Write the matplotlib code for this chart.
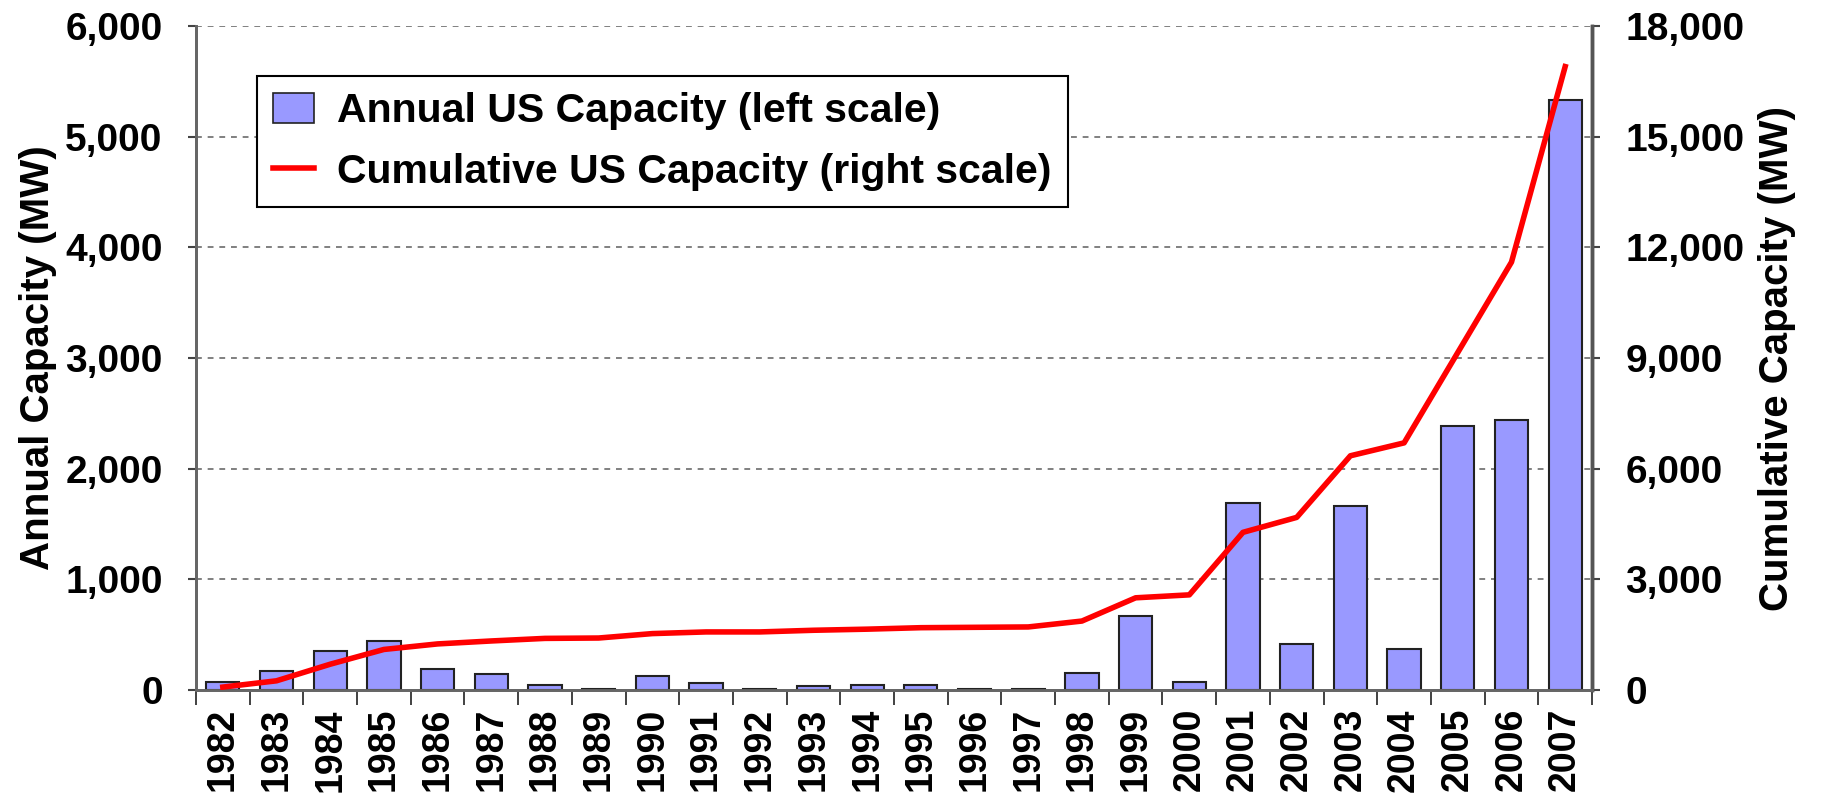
import numpy as np
import matplotlib
matplotlib.use("Agg")
import matplotlib.pyplot as plt
from matplotlib.ticker import FuncFormatter, FixedLocator
from matplotlib.patches import Patch
from matplotlib.lines import Line2D

years = [str(y) for y in range(1982, 2008)]

# annual installed capacity, MW (left scale)
annual = [70, 174, 357, 447, 186, 141, 48, 12, 129, 60, 12, 36, 48,
          45, 9, 9, 150, 667, 69, 1694, 414, 1661, 372, 2387, 2444, 5330]

# cumulative capacity, MW (right scale)
cumulative = [80, 250, 700, 1100, 1250, 1330, 1400, 1410, 1530, 1575, 1575,
              1620, 1650, 1690, 1700, 1710, 1870, 2500, 2580, 4275, 4680,
              6350, 6700, 9150, 11600, 16900]

plt.rcParams['font.family'] = ['Liberation Sans', 'DejaVu Sans']

fig = plt.figure(figsize=(18.23, 7.98), dpi=100)
ax = fig.add_axes([0.1075, 0.1353, 0.7658, 0.8321])
ax2 = ax.twinx()

x = np.arange(len(years))
ax.bar(x, annual, width=0.62, color='#9999FF', edgecolor='#222222',
       linewidth=1.5, zorder=3)
ax2.plot(x, cumulative, color='#FF0000', linewidth=4, zorder=4,
         solid_joinstyle='round')

ax.set_xlim(-0.5, len(years) - 0.5)
ax.set_ylim(0, 6000)
ax2.set_ylim(0, 18000)
ax.set_yticks(np.arange(0, 6001, 1000))
ax2.set_yticks(np.arange(0, 18001, 3000))

fmt = FuncFormatter(lambda v, p: f"{int(v):,}")
ax.yaxis.set_major_formatter(fmt)
ax2.yaxis.set_major_formatter(fmt)

ax.yaxis.grid(True, color='#808080', linestyle=(0, (3, 3)), linewidth=1.4, zorder=0)
ax.set_axisbelow(True)

ax.set_xticks(x)
ax.set_xticklabels(years, rotation=90, fontsize=27, fontweight='bold')
ax.xaxis.set_minor_locator(FixedLocator(np.arange(-0.5, len(years), 1.0)))
ax.tick_params(axis='x', which='major', length=0, pad=13)
ax.tick_params(axis='x', which='minor', length=11, width=1.3, color='#333333')

ax.tick_params(axis='y', labelsize=28, length=6, width=1.5, color='#444444', pad=18)
ax2.tick_params(axis='y', labelsize=28, length=6, width=1.5, color='#444444', pad=18)
for lab in ax.get_yticklabels() + ax2.get_yticklabels():
    lab.set_fontweight('bold')

for a in (ax, ax2):
    a.spines['top'].set_visible(False)
    a.spines['left'].set_color('#666666')
    a.spines['right'].set_color('#555555')
    a.spines['bottom'].set_color('#666666')
    a.spines['left'].set_linewidth(2)
    a.spines['right'].set_linewidth(2.5)
    a.spines['bottom'].set_linewidth(2)

ax.set_ylabel('Annual Capacity (MW)', fontsize=29, fontweight='bold', labelpad=6)
ax2.set_ylabel('Cumulative Capacity (MW)', fontsize=29, fontweight='bold', labelpad=10)

handles = [Patch(facecolor='#9999FF', edgecolor='#222222', linewidth=1.2),
           Line2D([0], [0], color='#FF0000', linewidth=4)]
labels = ['Annual US Capacity (left scale)', 'Cumulative US Capacity (right scale)']
leg = ax2.legend(handles, labels, loc='upper left', bbox_to_anchor=(0.0437, 0.925),
                 borderaxespad=0, fancybox=False, framealpha=1,
                 edgecolor='#000000', handlelength=1.0, handleheight=0.75,
                 handletextpad=0.55, borderpad=0.4, labelspacing=0.55,
                 prop={'size': 29.5, 'weight': 'bold'})
leg.get_frame().set_linewidth(1.5)

fig.savefig('out.png', dpi=100)
